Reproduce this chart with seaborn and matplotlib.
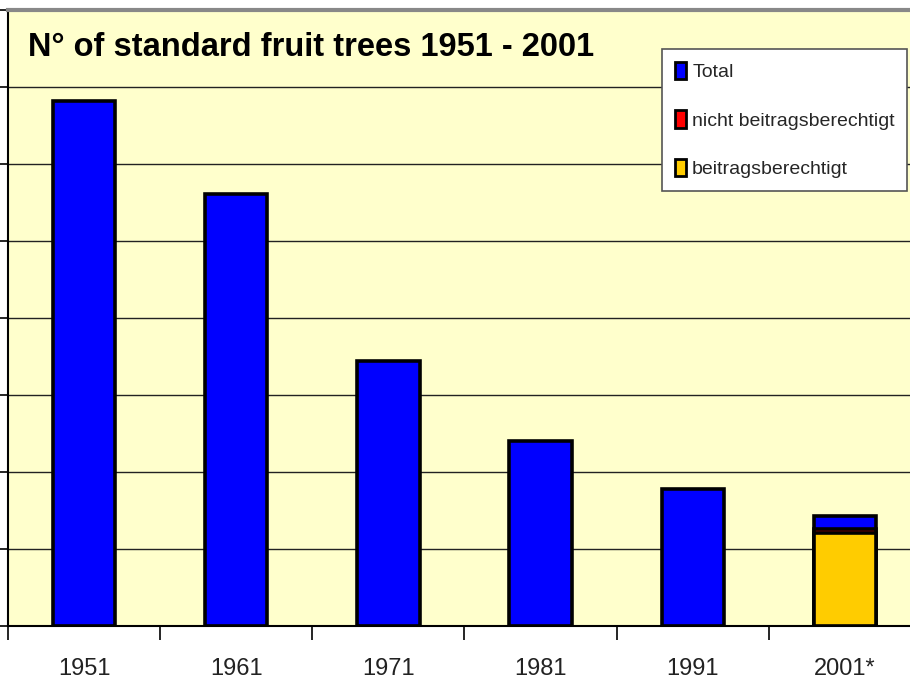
import matplotlib
matplotlib.use("Agg")
import matplotlib.pyplot as plt
import numpy as np
import pandas as pd
import seaborn as sns
from matplotlib.patches import Patch

# values (one grid step = 1 unit, no y labels shown)
years = ["1951", "1961", "1971", "1981", "1991", "2001*"]
total = [6.82, 5.61, 3.44, 2.40, 1.78, 0.17]
nicht_beitrag = [0, 0, 0, 0, 0, 0.05]
beitrag = [0, 0, 0, 0, 0, 1.21]

labels = ["Total", "nicht beitragsberechtigt", "beitragsberechtigt"]
colors = ["#0000FF", "#FF0000", "#FFCC00"]

sns.set_style("white")
plt.rcParams["font.family"] = ["Liberation Sans", "DejaVu Sans"]

df = pd.DataFrame({"year": years, "total": total,
                   "nicht": nicht_beitrag, "beitrag": beitrag})
# stacked: draw cumulative heights, tallest first
df["top"] = df["beitrag"] + df["nicht"] + df["total"]
df["mid"] = df["beitrag"] + df["nicht"]

fig = plt.figure(figsize=(9.1, 6.84), dpi=100)
ax = fig.add_axes([8/910, 58/684, 913/910, 616/684])
ax.set_facecolor("#FFFFCC")

ax.yaxis.grid(True, color="#222222", linewidth=1.0)
ax.set_axisbelow(True)

sns.barplot(data=df, x="year", y="top", color=colors[0], saturation=1,
            width=0.41, edgecolor="black", linewidth=2.6, ax=ax)
sub = df[df["mid"] > 0]
ax.bar(sub.index, sub["mid"], width=0.41, color=colors[1], edgecolor="black", linewidth=2.6)
sub = df[df["beitrag"] > 0]
ax.bar(sub.index, sub["beitrag"], width=0.41, color=colors[2], edgecolor="black", linewidth=2.6)

ax.set_xlim(-0.5, 5.5)
ax.set_ylim(0, 8)
ax.set_xlabel("")
ax.set_ylabel("")

# ticks between categories, labels at centres
ax.set_xticks(np.arange(-0.5, 6, 1))
ax.set_xticklabels([])
ax.set_xticks(np.arange(len(years)), minor=True)
ax.set_xticklabels(years, minor=True, fontsize=17, color="#222222")
ax.tick_params(axis="x", which="major", direction="out", length=10, width=1.2, color="black", bottom=True)
ax.tick_params(axis="x", which="minor", length=0, pad=23)
ax.set_yticks(np.arange(0, 9, 1))
ax.set_yticklabels([])
ax.tick_params(axis="y", direction="out", length=8, width=1.2, color="black", left=True)

for s in ["left", "bottom"]:
    ax.spines[s].set_color("black")
    ax.spines[s].set_linewidth(1.5)
ax.spines["top"].set_color("#888888")
ax.spines["top"].set_linewidth(3)
ax.spines["right"].set_visible(False)

fig.text(28/910, 1 - 48/684, "N° of standard fruit trees 1951 - 2001",
         fontsize=23.5, fontweight="bold", va="center", ha="left", color="black")

handles = [Patch(facecolor=c, edgecolor="black", linewidth=2) for c in colors]
leg = fig.legend(handles, labels, loc="upper left",
                 bbox_to_anchor=(662/910, 1 - 49/684), fontsize=14,
                 frameon=True, fancybox=False, handlelength=0.6, handleheight=1.0,
                 handletextpad=0.3, labelspacing=1.5, borderpad=0.65, borderaxespad=0)
leg.get_frame().set_edgecolor("#555555")
leg.get_frame().set_linewidth(1.2)
leg.get_frame().set_facecolor("white")
leg.get_frame().set_alpha(1)

fig.savefig("out.png", dpi=100)
